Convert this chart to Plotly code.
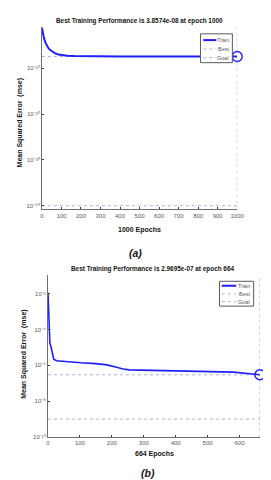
import plotly.graph_objects as go

W, H = 271, 480

# ---------------- data ----------------
# (a)
epochs_a = [0, 3, 10, 18, 26, 35, 43, 55, 68, 85, 100, 130, 167, 250, 400, 600, 800, 1000]
mse_a = [7.9e-2, 1.0e-2, 5.0e-4, 4.0e-5, 6.3e-6, 2.0e-6, 1.0e-6, 4.0e-7, 1.8e-7,
         1.1e-7, 7.9e-8, 5.6e-8, 4.7e-8, 4.2e-8, 4.0e-8, 3.9e-8, 3.87e-8, 3.8574e-8]
best_epoch_a = 1000
best_a = 3.8574e-08
goal_a = 1e-40
xticks_a = [0, 100, 200, 300, 400, 500, 600, 700, 800, 900, 1000]
yticks_a = [1e-40, 1e-30, 1e-20, 1e-10]
ytick_text_a = ["10⁻⁴⁰", "10⁻³⁰", "10⁻²⁰", "10⁻¹⁰"]

# (b)
epochs_b = [0, 2, 4, 6, 10, 14, 18, 27, 53, 103, 149, 185, 215, 235, 255, 300, 387, 488, 580, 664]
mse_b = [1.15e-2, 8.7e-4, 6.8e-5, 1.7e-5, 1.0e-5, 3.4e-6, 2.2e-6, 1.8e-6, 1.6e-6,
         1.4e-6, 1.26e-6, 1.07e-6, 7.9e-7, 6.3e-7, 5.6e-7, 5.4e-7, 5.1e-7, 4.9e-7, 4.2e-7, 2.9695e-7]
best_epoch_b = 664
best_b = 2.9695e-07
goal_b = 1e-9
xticks_b = [0, 100, 200, 300, 400, 500, 600]
yticks_b = [1e-10, 1e-8, 1e-6, 1e-4, 1e-2]
ytick_text_b = ["10⁻¹⁰", "10⁻⁸", "10⁻⁶", "10⁻⁴", "10⁻²"]

# ---------------- style ----------------
FONT = "Liberation Sans"
BLUE = "rgb(30,30,255)"
DOT = "rgb(175,175,225)"
AXC = "rgb(110,110,110)"
TXT = "rgb(90,90,90)"

yr_a = [-40.8, -0.95]
yr_b = [-10.0, -0.97]


def px(x):
    return x / W


def py(y):
    return 1 - y / H


fig = go.Figure()

# panel a
fig.add_trace(go.Scatter(x=[0, best_epoch_a], y=[best_a, best_a], mode="lines",
                         line=dict(color=DOT, width=1, dash="dot"), xaxis="x", yaxis="y",
                         showlegend=False, hoverinfo="skip"))
fig.add_trace(go.Scatter(x=[best_epoch_a, best_epoch_a], y=[10 ** yr_a[0], 10 ** yr_a[1]], mode="lines",
                         line=dict(color=DOT, width=1, dash="dot"), xaxis="x", yaxis="y",
                         showlegend=False, hoverinfo="skip", cliponaxis=False))
fig.add_trace(go.Scatter(x=[0, best_epoch_a], y=[goal_a, goal_a], mode="lines",
                         line=dict(color=DOT, width=1, dash="dot"), xaxis="x", yaxis="y",
                         showlegend=False, hoverinfo="skip"))
fig.add_trace(go.Scatter(x=epochs_a, y=mse_a, mode="lines", line=dict(color=BLUE, width=2),
                         xaxis="x", yaxis="y", showlegend=False, cliponaxis=False))
fig.add_trace(go.Scatter(x=[best_epoch_a], y=[best_a], mode="markers",
                         marker=dict(symbol="circle-open", size=10, color=BLUE, line=dict(width=1.4)),
                         xaxis="x", yaxis="y", showlegend=False, cliponaxis=False))

# panel b
fig.add_trace(go.Scatter(x=[0, best_epoch_b], y=[best_b, best_b], mode="lines",
                         line=dict(color=DOT, width=1, dash="dot"), xaxis="x2", yaxis="y2",
                         showlegend=False, hoverinfo="skip"))
fig.add_trace(go.Scatter(x=[best_epoch_b, best_epoch_b], y=[10 ** yr_b[0], 10 ** yr_b[1]], mode="lines",
                         line=dict(color=DOT, width=1, dash="dot"), xaxis="x2", yaxis="y2",
                         showlegend=False, hoverinfo="skip", cliponaxis=False))
fig.add_trace(go.Scatter(x=[0, best_epoch_b], y=[goal_b, goal_b], mode="lines",
                         line=dict(color=DOT, width=1, dash="dot"), xaxis="x2", yaxis="y2",
                         showlegend=False, hoverinfo="skip"))
fig.add_trace(go.Scatter(x=epochs_b, y=mse_b, mode="lines", line=dict(color=BLUE, width=1.6),
                         xaxis="x2", yaxis="y2", showlegend=False, cliponaxis=False))
fig.add_trace(go.Scatter(x=[best_epoch_b], y=[best_b], mode="markers",
                         marker=dict(symbol="circle-open", size=10, color=BLUE, line=dict(width=1.4)),
                         xaxis="x2", yaxis="y2", showlegend=False, cliponaxis=False))

axis_common = dict(showline=True, linecolor=AXC, linewidth=1, showgrid=False, zeroline=False,
                   ticks="inside", ticklen=2, tickcolor="rgb(60,60,60)", tickwidth=1,
                   tickfont=dict(family=FONT, size=6, color=TXT), mirror=False)

fig.update_layout(
    width=W, height=H, margin=dict(l=0, r=0, t=0, b=0),
    paper_bgcolor="white", plot_bgcolor="white", showlegend=False,
    xaxis=dict(domain=[px(33), px(235)], range=[0, 1000], tickvals=xticks_a, anchor="y", **axis_common),
    yaxis=dict(domain=[py(202.7), py(19)], type="log", range=yr_a, tickvals=yticks_a,
               ticktext=ytick_text_a, anchor="x", **axis_common),
    xaxis2=dict(domain=[px(39.3), px(258.5)], range=[0, 664], tickvals=xticks_b, anchor="y2", **axis_common),
    yaxis2=dict(domain=[py(431.7), py(269)], type="log", range=yr_b, tickvals=yticks_b,
                ticktext=ytick_text_b, anchor="x2", **axis_common),
)

shapes = []
annotations = []


def text(x, y, s, size, bold=True, italic=False, color="rgb(20,20,20)", angle=0, xanchor="center"):
    t = s
    if bold:
        t = "<b>" + t + "</b>"
    if italic:
        t = "<i>" + t + "</i>"
    annotations.append(dict(x=px(x), y=py(y), xref="paper", yref="paper", text=t, showarrow=False,
                            font=dict(family=FONT, size=size, color=color), textangle=angle,
                            xanchor=xanchor, yanchor="middle"))


# titles & labels
text(133.5, 13, "Best Training Performance is 3.8574e-08 at epoch 1000", 6.4)
text(134, 223, "1000 Epochs", 7)
text(10.5, 116, "Mean Squared Error  (mse)", 7, angle=-90)
text(130, 247, "(a)", 10.5, italic=True)

text(147.5, 262.5, "Best Training Performance is 2.9695e-07 at epoch 664", 6.4)
text(149, 448.5, "664 Epochs", 7)
text(14.5, 349, "Mean Squared Error  (mse)", 7, angle=-90)
text(143, 467.5, "(b)", 10.5, italic=True)


def legend(x0, x1, y0, y1, rows, lx0, lx1, tx):
    shapes.append(dict(type="rect", xref="paper", yref="paper", x0=px(x0), x1=px(x1), y0=py(y1), y1=py(y0),
                       line=dict(color="rgb(90,90,90)", width=1), fillcolor="white", layer="above"))
    for i, (name, style) in enumerate(zip(["Train", "Best", "Goal"], ["train", "dot", "dot"])):
        yy = rows[i]
        if style == "train":
            ln = dict(color=BLUE, width=2)
        else:
            ln = dict(color=DOT, width=1, dash="dot")
        shapes.append(dict(type="line", xref="paper", yref="paper", x0=px(lx0), x1=px(lx1),
                           y0=py(yy), y1=py(yy), line=ln, layer="above"))
        annotations.append(dict(x=px(tx), y=py(yy), xref="paper", yref="paper", text=name, showarrow=False,
                                font=dict(family=FONT, size=5.5, color=TXT), xanchor="right", yanchor="middle"))


legend(197, 230, 26, 55, [32.3, 41.3, 50], 200, 213.5, 228.5)
legend(216.7, 252, 275, 300, [279.5, 287.7, 295.5], 219, 234, 250)

fig.update_layout(shapes=shapes, annotations=annotations)
fig.write_html("out.html")
